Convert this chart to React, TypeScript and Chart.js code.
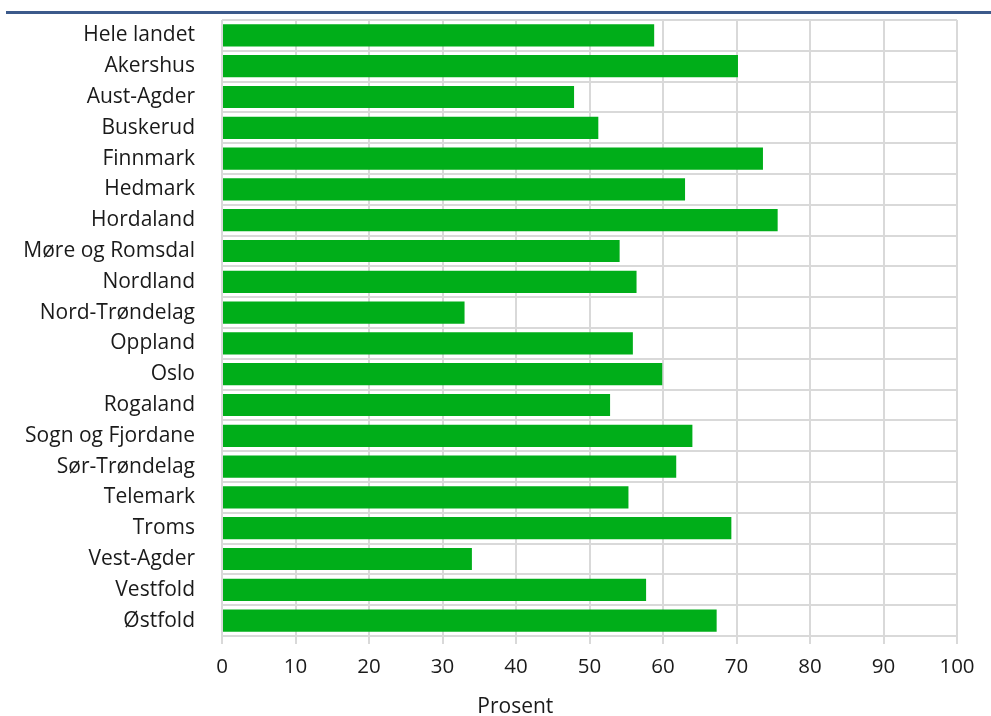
import React, { useEffect, useRef } from "react";
import { Chart, registerables } from "chart.js";

Chart.register(...registerables);

const categories = [
  "Hele landet", "Akershus", "Aust-Agder", "Buskerud", "Finnmark", "Hedmark",
  "Hordaland", "Møre og Romsdal", "Nordland", "Nord-Trøndelag", "Oppland",
  "Oslo", "Rogaland", "Sogn og Fjordane", "Sør-Trøndelag", "Telemark",
  "Troms", "Vest-Agder", "Vestfold", "Østfold",
];
const values = [
  58.8, 70.2, 47.9, 51.2, 73.6, 63.0, 75.6, 54.1, 56.4, 33.0,
  55.9, 59.9, 52.8, 64.0, 61.8, 55.3, 69.3, 34.0, 57.7, 67.3,
];
const xTicks = [0, 10, 20, 30, 40, 50, 60, 70, 80, 90, 100];
const xTitle = "Prosent";

const FONT = "'Open Sans', 'Noto Sans', sans-serif";

export default function App() {
  const ref = useRef<HTMLCanvasElement | null>(null);
  useEffect(() => {
    if (!ref.current) return;
    const titlePlugin = {
      id: "xTitle",
      afterDraw(chart: any) {
        const ctx = chart.ctx;
        ctx.save();
        ctx.font = `21px ${FONT}`;
        ctx.fillStyle = "#1a1a1a";
        ctx.textAlign = "center";
        ctx.textBaseline = "middle";
        ctx.fillText(xTitle, chart.width * 0.52, chart.height - 9);
        ctx.restore();
      },
    };
    const chart = new Chart(ref.current, {
      type: "bar",
      data: {
        labels: categories,
        datasets: [
          {
            data: values,
            backgroundColor: "#00ae19",
            borderWidth: 0,
            categoryPercentage: 0.8,
            barPercentage: 0.9,
          },
        ],
      },
      options: {
        indexAxis: "y",
        animation: false,
        responsive: true,
        maintainAspectRatio: false,
        layout: { padding: { top: 20, right: 34, bottom: 0, left: 0 } },
        plugins: { legend: { display: false }, tooltip: { enabled: false } },
        scales: {
          x: {
            min: 0,
            max: 100,
            afterBuildTicks: (scale: any) => {
              scale.ticks = xTicks.map((v) => ({ value: v }));
            },
            afterFit: (scale: any) => {
              scale.height = 80;
            },
            grid: { color: "#d9d9d9", lineWidth: 2, tickLength: 8, drawTicks: true },
            border: { display: false },
            ticks: {
              color: "#1a1a1a",
              font: { family: FONT, size: 20.5 },
              padding: 11,
              maxRotation: 0,
            },
          },
          y: {
            afterFit: (scale: any) => {
              scale.width = 222;
              scale.paddingTop = 0;
              scale.paddingBottom = 0;
            },
            grid: { color: "#d9d9d9", lineWidth: 2, drawTicks: false, offset: true },
            border: { display: false },
            ticks: {
              color: "#1a1a1a",
              font: { family: FONT, size: 21 },
              padding: 27,
            },
          },
        },
      },
      plugins: [titlePlugin],
    });
    return () => chart.destroy();
  }, []);

  return (
    <div style={{ position: "fixed", left: 0, top: 0, width: 991, height: 716, background: "#fff" }}>
      <div style={{ position: "absolute", left: 6, right: 0, top: 11, height: 3, background: "#3c5a8b" }} />
      <div style={{ position: "absolute", left: 0, top: 0, width: 991, height: 716 }}>
        <canvas ref={ref} />
      </div>
    </div>
  );
}
